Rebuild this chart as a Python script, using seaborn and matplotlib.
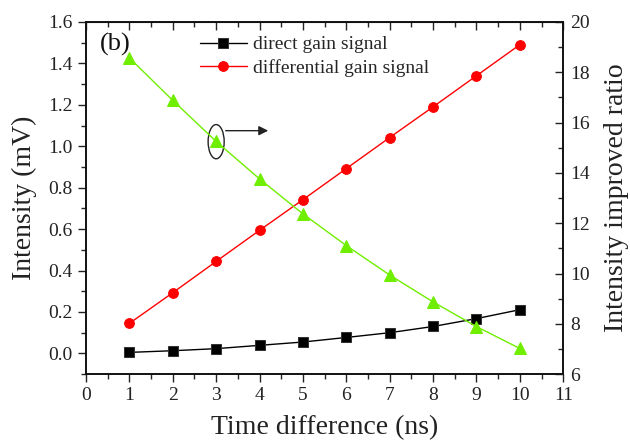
import numpy as np
import pandas as pd
import matplotlib
matplotlib.use("Agg")
import matplotlib.pyplot as plt
from matplotlib.patches import Ellipse
from matplotlib.ticker import MultipleLocator
import seaborn as sns

time_ns = [1, 2, 3, 4, 5, 6, 7, 8, 9, 10]
direct_gain = [0.005, 0.013, 0.023, 0.039, 0.055, 0.077, 0.100, 0.130, 0.168, 0.211]
differential_gain = [0.145, 0.293, 0.444, 0.594, 0.742, 0.892, 1.042, 1.190, 1.340, 1.490]
improved_ratio = [18.57, 16.88, 15.25, 13.76, 12.37, 11.11, 9.94, 8.87, 7.89, 7.02]

sns.set_style("ticks")
plt.rcParams["font.family"] = ["Liberation Serif", "DejaVu Serif"]
plt.rcParams["mathtext.fontset"] = "stix"

df = pd.DataFrame({"t": time_ns, "direct": direct_gain,
                   "diff": differential_gain, "ratio": improved_ratio})

fig = plt.figure(figsize=(6.3, 4.47), dpi=100)
ax = fig.add_axes([0.1365, 0.163, 0.7575, 0.788])
ax2 = ax.twinx()

green = "#70ee00"
sns.lineplot(data=df, x="t", y="direct", ax=ax, color="black", marker="s",
             markersize=6.5, markeredgecolor="#333333", linewidth=1.0,
             label="direct gain signal")
sns.lineplot(data=df, x="t", y="diff", ax=ax, color="#ff0000", marker="o",
             markersize=7, markeredgecolor="#ff0000", linewidth=1.0,
             label="differential gain signal")
sns.lineplot(data=df, x="t", y="ratio", ax=ax2, color=green, marker="^",
             markersize=8.5, markeredgecolor=green, linewidth=1.0, legend=False)

ax.set_xlim(0, 11)
ax.set_ylim(-0.1, 1.6)
ax2.set_ylim(6, 20)
ax.set_xticks(range(0, 12))
ax.xaxis.set_minor_locator(MultipleLocator(0.5))
ax.set_yticks(np.arange(0, 1.61, 0.2))
ax.yaxis.set_minor_locator(MultipleLocator(0.1))
ax2.set_yticks(range(6, 21, 2))
ax2.yaxis.set_minor_locator(MultipleLocator(1))
ax.set_yticklabels([f"{v:.1f}" for v in np.arange(0, 1.61, 0.2)])

ax.tick_params(axis="both", which="major", direction="out", length=6, width=1,
               labelsize=14, colors="#222222")
ax.tick_params(axis="both", which="minor", direction="out", length=3.5, width=1)
ax2.tick_params(axis="y", which="major", direction="in", length=6, width=1,
                labelsize=14, colors="#222222", pad=5)
ax2.tick_params(axis="y", which="minor", direction="in", length=3.5, width=1)

sec = ax.secondary_xaxis("top")
sec.set_xticks(range(0, 12))
sec.xaxis.set_minor_locator(MultipleLocator(0.5))
sec.tick_params(axis="x", which="major", direction="in", length=6, width=1, labeltop=False)
sec.tick_params(axis="x", which="minor", direction="in", length=3.5, width=1)

for a in (ax, ax2):
    for s in a.spines.values():
        s.set_visible(True)
        s.set_linewidth(1.2)
        s.set_color("#111111")

ax.set_xlabel("Time difference (ns)", fontsize=20, labelpad=8, color="#222222")
ax.set_ylabel("Intensity (mV)", fontsize=20, labelpad=8, color="#222222")
ax2.set_ylabel("Intensity improved ratio", fontsize=20, labelpad=10, color="#222222")

ax.text(0.33, 1.49, "(b)", fontsize=19, color="#111111", va="center")

leg = ax.legend(loc="upper left", bbox_to_anchor=(0.202, 1.01), frameon=False,
                fontsize=14, handlelength=2.4, handletextpad=0.35,
                labelspacing=0.3, borderpad=0.4)

ell = Ellipse((3.0, 1.022), width=0.37, height=0.165, fill=False,
              edgecolor="#222222", linewidth=1.0)
ax.add_patch(ell)
ax.annotate("", xy=(4.2, 1.075), xytext=(3.22, 1.075),
            arrowprops=dict(arrowstyle="-|>", color="#222222", lw=1.0,
                            mutation_scale=14, shrinkA=0, shrinkB=0))

fig.savefig("out.png", dpi=100)
